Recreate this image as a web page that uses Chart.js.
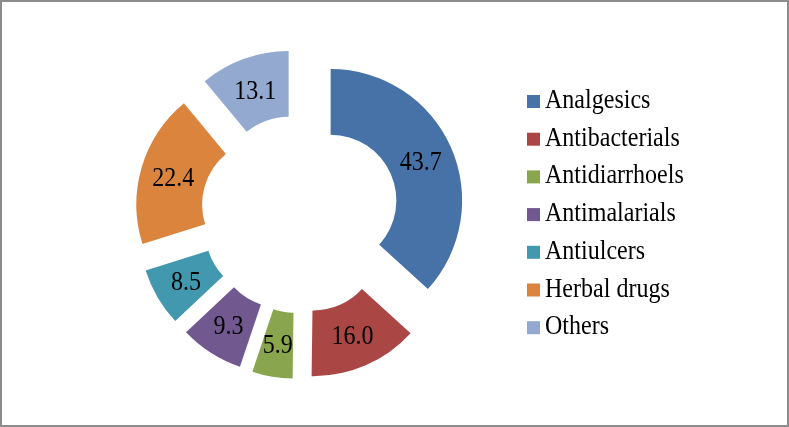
<!DOCTYPE html>
<html>
<head>
<meta charset="utf-8">
<script src="https://cdn.jsdelivr.net/npm/chart.js@4"></script>
<style>
  html, body { margin: 0; padding: 0; background: #fff; }
  #frame { position: relative; width: 789px; height: 427px; box-sizing: border-box; border: 2px solid #8c8c8c; }
  #chart1 { position: absolute; left: -2px; top: -2px; }
</style>
</head>
<body>
<div id="frame">
  <canvas id="chart1" width="789" height="427"></canvas>
</div>
<script>
const categories = ['Analgesics', 'Antibacterials', 'Antidiarrhoels', 'Antimalarials', 'Antiulcers', 'Herbal drugs', 'Others'];
const shares = [43.7, 16.0, 5.9, 9.3, 8.5, 22.4, 13.1];
const colors = ['#4672a8', '#aa4744', '#89a54e', '#71588f', '#4198af', '#db843d', '#93a9cf'];

const chart1 = document.getElementById('chart1');
const serif = 'Liberation Serif, Times New Roman, serif';
const explode = 33.5;

// text in the original is a bit taller than it is wide
function tallText(ctx, text, x, y, align) {
  ctx.save();
  ctx.translate(x, y);
  ctx.scale(0.89, 1);
  ctx.textAlign = align;
  ctx.textBaseline = 'alphabetic';
  ctx.font = '27px ' + serif;
  ctx.fillText(text, 0, 0);
  ctx.restore();
}

// pull every slice out along its middle angle (like excel's exploded doughnut)
const explodePlugin = {
  id: 'explode',
  afterDatasetUpdate(chart, args) {
    args.meta.data.forEach(arc => {
      const mid = (arc.startAngle + arc.endAngle) / 2;
      arc.x += Math.cos(mid) * explode;
      arc.y += Math.sin(mid) * explode;
    });
  }
};

// values in the middle of each slice
const sliceLabels = {
  id: 'sliceLabels',
  afterDatasetsDraw(chart) {
    const ctx = chart.ctx;
    const meta = chart.getDatasetMeta(0);
    ctx.fillStyle = '#000';
    meta.data.forEach((arc, i) => {
      const p = arc.getCenterPoint();
      tallText(ctx, shares[i].toFixed(1), p.x, p.y + 9, 'center');
    });
  }
};

// legend on the right
const sideLegend = {
  id: 'sideLegend',
  afterDraw(chart) {
    const ctx = chart.ctx;
    categories.forEach((name, i) => {
      const base = 108 + i * 37.7;
      ctx.fillStyle = colors[i];
      ctx.fillRect(527, base - 13, 13, 13);
      ctx.fillStyle = '#000';
      tallText(ctx, name, 545, base, 'left');
    });
  }
};

new Chart(chart1, {
  type: 'doughnut',
  data: {
    labels: categories,
    datasets: [{
      data: shares,
      backgroundColor: colors,
      borderWidth: 0
    }]
  },
  options: {
    responsive: false,
    maintainAspectRatio: false,
    animation: false,
    events: [],
    radius: 131.5,
    cutout: '50%',
    layout: {
      padding: { left: 10, right: 199, top: 10, bottom: 9 }
    },
    plugins: {
      legend: { display: false },
      tooltip: { enabled: false }
    }
  },
  plugins: [explodePlugin, sliceLabels, sideLegend]
});
</script>
</body>
</html>
